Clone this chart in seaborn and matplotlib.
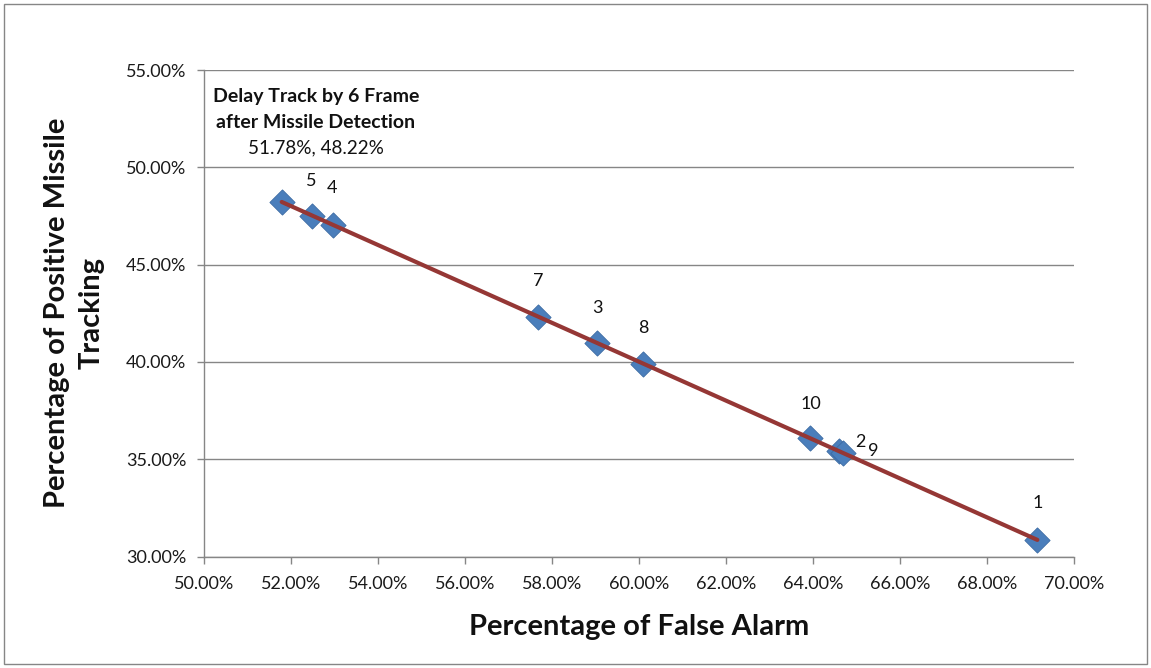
## IMPORTS
import numpy as np
import pandas as pd

import matplotlib
matplotlib.use('Agg')
import matplotlib.pyplot as plt
from matplotlib.ticker import PercentFormatter, MultipleLocator
from matplotlib.patches import Rectangle
import seaborn as sns

## DATA
run_labels = ['1', '2', '3', '4', '5', '6', '7', '8', '9', '10']
false_alarm = [69.15, 64.60, 59.03, 52.95, 52.48, 51.78, 57.68, 60.09, 64.68, 63.92]
positive_tracking = [30.85, 35.40, 40.97, 47.05, 47.52, 48.22, 42.32, 39.91, 35.32, 36.10]
highlight_run = '6'
highlight_title = ['Delay Track by 6 Frame', 'after Missile Detection']

# label offsets in pixels (dx, dy), per run
label_offsets = {'1': (0, 37), '2': (21, 9), '3': (0, 35), '4': (-1, 37), '5': (-1, 35),
                 '7': (0, 36), '8': (0, 36), '9': (30, 2), '10': (1, 34)}

df = pd.DataFrame({'run': run_labels, 'false_alarm': false_alarm,
                   'tracking': positive_tracking})

## STYLE
sns.set_theme(style='white')
plt.rcParams['font.family'] = ['Lato', 'DejaVu Sans']
grey = '#868686'
ink = '#111111'

fig = plt.figure(figsize=(11.51, 6.68), dpi=100)
ax = fig.add_axes([0.1775, 0.1669, 0.9334 - 0.1775, 0.8952 - 0.1669])

# markers, then trend line on top
sns.scatterplot(data=df, x='false_alarm', y='tracking', marker='D', s=165,
                color='#4A7EBB', edgecolor='#3B6AA3', linewidth=0.6, ax=ax, zorder=3)
sns.regplot(data=df, x='false_alarm', y='tracking', scatter=False, ci=None,
            truncate=True, color='#953735', line_kws={'linewidth': 3.0, 'zorder': 4}, ax=ax)

ax.set_xlim(50, 70)
ax.set_ylim(30, 55)
ax.xaxis.set_major_locator(MultipleLocator(2))
ax.yaxis.set_major_locator(MultipleLocator(5))
ax.xaxis.set_major_formatter(PercentFormatter(100, decimals=2))
ax.yaxis.set_major_formatter(PercentFormatter(100, decimals=2))
ax.set_xlabel('')
ax.set_ylabel('')

ax.yaxis.grid(True, color=grey, linewidth=1.0)
ax.set_axisbelow(True)
sns.despine(ax=ax)
for side in ['left', 'bottom']:
    ax.spines[side].set_color(grey)
    ax.spines[side].set_linewidth(1.0)
ax.tick_params(axis='both', which='major', direction='out', length=5, width=1.0,
               color=grey, labelsize=13, labelcolor='#1a1a1a')
ax.tick_params(axis='y', pad=8, left=True)
ax.tick_params(axis='x', pad=9, bottom=True)

# data labels
for run, x, y in zip(run_labels, false_alarm, positive_tracking):
    if run == highlight_run:
        for line, dy in zip(highlight_title, [100, 74]):
            ax.annotate(line, (x, y), xytext=(34, dy), textcoords='offset pixels',
                        ha='center', va='baseline', fontsize=14, fontweight='bold', color=ink)
        ax.annotate(f'{x:.2f}%, {y:.2f}%', (x, y), xytext=(34, 48.5), textcoords='offset pixels',
                    ha='center', va='baseline', fontsize=13.6, color=ink)
        continue
    dx, dy = label_offsets[run]
    ax.annotate(run, (x, y), xytext=(dx, dy), textcoords='offset pixels',
                ha='center', va='center', fontsize=13, color=ink)

# axis titles
fig.text(639 / 1151, 1 - 635 / 668, 'Percentage of False Alarm', ha='center', va='baseline',
         fontsize=21, fontweight='bold', color=ink)
fig.text(74 / 1151, 1 - 313 / 668, 'Percentage of Positive Missile\nTracking', ha='center',
         va='center', rotation=90, multialignment='center', fontsize=21,
         fontweight='bold', color=ink, linespacing=1.4)

# chart frame
fig.patches.append(Rectangle((4 / 1151, 4 / 668), 1 - 8 / 1151, 1 - 8 / 668,
                             transform=fig.transFigure, fill=False,
                             edgecolor=grey, linewidth=1.0))

fig.savefig('out.png', dpi=100)
